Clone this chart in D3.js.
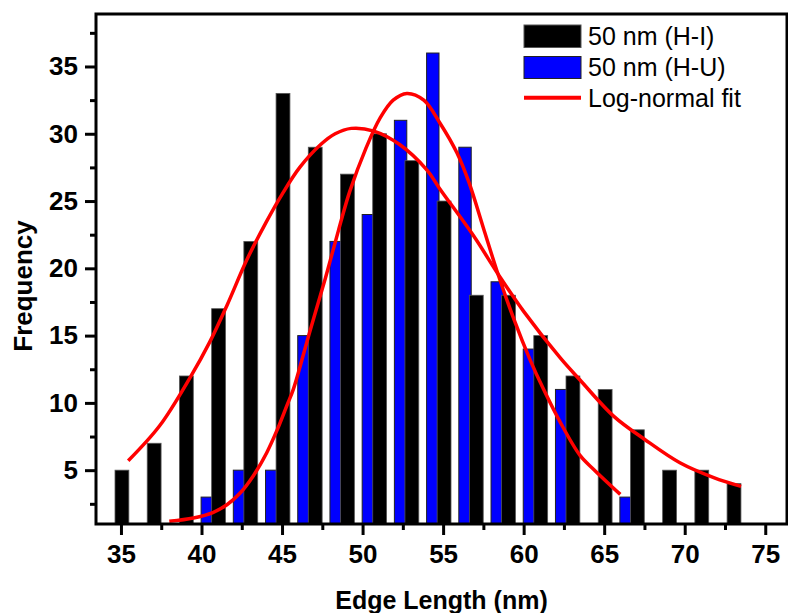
<!DOCTYPE html>
<html>
<head>
<meta charset="utf-8">
<script src="https://cdn.jsdelivr.net/npm/d3@7"></script>
<style>
  body { margin: 0; background: #fff; }
  svg { display: block; font-family: "Liberation Sans", Arial, sans-serif; }
</style>
</head>
<body>
<div id="chart"></div>
<script>
// histogram bins (nm) and counts
let hiBins = [35, 37, 39, 41, 43, 45, 47, 49, 51, 53, 55, 57, 59, 61, 63, 65, 67, 69, 71, 73];
let hiCounts = [5, 7, 12, 17, 22, 33, 29, 27, 30, 28, 25, 18, 18, 15, 12, 11, 8, 5, 5, 4];
let huBins = [40, 42, 44, 46, 48, 50, 52, 54, 56, 58, 60, 62, 64, 66];
let huCounts = [3, 5, 5, 15, 22, 24, 31, 36, 29, 19, 14, 11, 0, 3];

// fitted curves
let hiFit = [[35.45, 5.7], [37.4, 8.3], [39.3, 11.9], [40.5, 14.5], [41.6, 17.3], [42.8, 20.6], [44.0, 23.4],
	[45.0, 25.5], [46.1, 27.5], [47.4, 29.2], [48.3, 30.0], [49.3, 30.4], [50.7, 30.2], [52.3, 29.2],
	[54.0, 27.3], [54.8, 25.9], [56.9, 22.4], [58.4, 19.6], [60.0, 16.8], [62.3, 13.3], [63.5, 11.7],
	[65.6, 9.0], [67.5, 7.3], [69.7, 5.55], [71.8, 4.45], [73.5, 3.8]];
let huFit = [[38.0, 1.2], [39.5, 1.45], [40.7, 1.85], [41.6, 2.45], [42.4, 3.3], [43.2, 4.55], [44.05, 6.3],
	[44.7, 8.0], [45.3, 9.8], [45.7, 11.0], [46.7, 15.2], [47.7, 19.3], [48.5, 22.8], [49.2, 25.7],
	[50.2, 28.9], [51.1, 31.2], [51.9, 32.5], [52.75, 33.0], [53.8, 32.5], [54.8, 30.8], [55.85, 28.6],
	[56.6, 26.4], [57.5, 23.0], [58.4, 19.6], [59.4, 16.2], [60.4, 13.2], [61.2, 11.1], [62.3, 8.5],
	[63.5, 6.1], [64.4, 5.0], [66.0, 3.2]];

let xTicks = [35, 40, 45, 50, 55, 60, 65, 70, 75];
let xMinor = [37.5, 42.5, 47.5, 52.5, 57.5, 62.5, 67.5, 72.5];
let yTicks = [5, 10, 15, 20, 25, 30, 35];
let yMinor = [2.5, 7.5, 12.5, 17.5, 22.5, 27.5, 32.5, 37.5];
let legendLabels = ["50 nm (H-I)", "50 nm (H-U)", "Log-normal fit"];

let width = 788, height = 613;
let plotLeft = 96, plotRight = 787, plotTop = 14, plotBottom = 524;

let svg = d3.select("#chart")
	.append("svg")
	.attr("width", width)
	.attr("height", height);

let xScale = d3.scaleLinear().domain([33.45, 76.35]).range([plotLeft, plotRight]);
let yScale = d3.scaleLinear().domain([1, 38.9]).range([plotBottom, plotTop]);

// bars: blue first, black drawn over it
let huOffset = 0.36, huWidth = 0.77;
let hiOffset = 0.06, hiWidth = 0.86;

svg.append("g").selectAll("rect")
	.data(huBins.map((b, i) => [b, huCounts[i]]).filter(d => d[1] > 0))
	.join("rect")
	.attr("x", d => xScale(d[0] + huOffset - huWidth / 2))
	.attr("width", xScale(huWidth) - xScale(0))
	.attr("y", d => yScale(d[1]))
	.attr("height", d => yScale(1) - yScale(d[1]))
	.attr("fill", "#0000ff")
	.attr("stroke", "#222")
	.attr("stroke-width", 1);

svg.append("g").selectAll("rect")
	.data(hiBins.map((b, i) => [b, hiCounts[i]]))
	.join("rect")
	.attr("x", d => xScale(d[0] + hiOffset - hiWidth / 2))
	.attr("width", xScale(hiWidth) - xScale(0))
	.attr("y", d => yScale(d[1]))
	.attr("height", d => yScale(1) - yScale(d[1]))
	.attr("fill", "#000")
	.attr("stroke", "#555")
	.attr("stroke-width", 0.8);

// fit lines
let line = d3.line()
	.x(d => xScale(d[0]))
	.y(d => yScale(d[1]))
	.curve(d3.curveCatmullRom);

[hiFit, huFit].forEach(fit => {
	svg.append("path")
		.datum(fit)
		.attr("d", line)
		.attr("fill", "none")
		.attr("stroke", "#ff0000")
		.attr("stroke-width", 3.5);
});

// axes
svg.append("g")
	.attr("transform", `translate(0, ${plotBottom})`)
	.call(d3.axisBottom(xScale).tickValues(xTicks).tickSize(11).tickPadding(10));
svg.append("g")
	.attr("transform", `translate(0, ${plotBottom})`)
	.call(d3.axisBottom(xScale).tickValues(xMinor).tickSize(6).tickFormat(""));
svg.append("g")
	.attr("transform", `translate(${plotLeft}, 0)`)
	.call(d3.axisLeft(yScale).tickValues(yTicks).tickSize(11).tickPadding(7));
svg.append("g")
	.attr("transform", `translate(${plotLeft}, 0)`)
	.call(d3.axisLeft(yScale).tickValues(yMinor).tickSize(6).tickFormat(""));

svg.selectAll(".domain").remove();
svg.selectAll(".tick line").attr("stroke", "#000").attr("stroke-width", 3);
svg.selectAll(".tick text")
	.attr("fill", "#000")
	.style("font-size", "26px")
	.style("font-weight", "bold")
	.style("font-family", "'Liberation Sans', Arial, sans-serif");

// frame
svg.append("rect")
	.attr("x", plotLeft)
	.attr("y", plotTop)
	.attr("width", plotRight - plotLeft)
	.attr("height", plotBottom - plotTop)
	.attr("fill", "none")
	.attr("stroke", "#000")
	.attr("stroke-width", 3);

// axis titles
svg.append("text")
	.attr("x", (plotLeft + plotRight) / 2)
	.attr("y", 609)
	.attr("text-anchor", "middle")
	.style("font-size", "25px")
	.style("font-weight", "bold")
	.text("Edge Length (nm)");

svg.append("text")
	.attr("transform", "translate(32, 286) rotate(-90)")
	.attr("text-anchor", "middle")
	.style("font-size", "26px")
	.style("font-weight", "bold")
	.text("Frequency");

// legend
let legend = svg.append("g").attr("transform", "translate(524, 25)");
legend.append("rect").attr("x", 0).attr("y", 0).attr("width", 57).attr("height", 22.5)
	.attr("fill", "#000").attr("stroke", "#555");
legend.append("rect").attr("x", 0).attr("y", 31.5).attr("width", 57).attr("height", 22)
	.attr("fill", "#0000ff").attr("stroke", "#222");
legend.append("line").attr("x1", 0).attr("x2", 57).attr("y1", 72.7).attr("y2", 72.7)
	.attr("stroke", "#ff0000").attr("stroke-width", 4);
legend.selectAll("text")
	.data(legendLabels)
	.join("text")
	.attr("x", 64)
	.attr("y", (d, i) => 20 + i * 31)
	.style("font-size", "25px")
	.text(d => d);
</script>
</body>
</html>
